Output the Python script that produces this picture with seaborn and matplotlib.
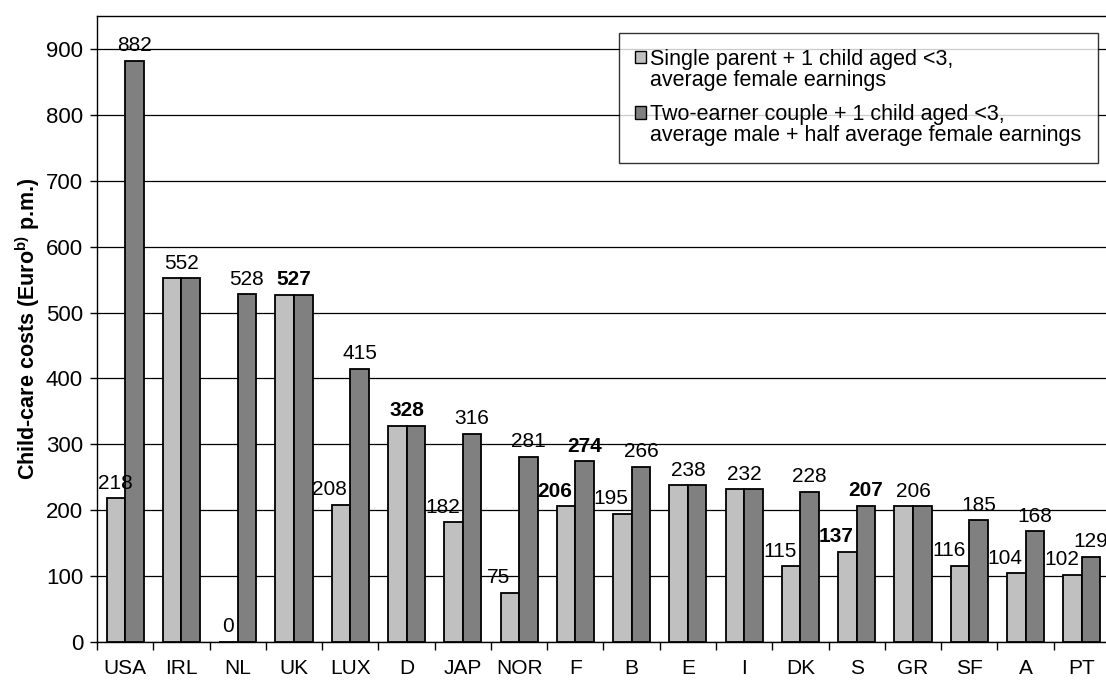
import numpy as np
import pandas as pd
import seaborn as sns
import matplotlib.pyplot as plt
from matplotlib.ticker import FixedLocator
from matplotlib.patches import Patch, Rectangle
from matplotlib.legend_handler import HandlerPatch

sns.set_theme(style="white")
plt.rcParams['font.family'] = ['Liberation Sans', 'DejaVu Sans']
plt.rcParams['mathtext.fontset'] = 'custom'
plt.rcParams['mathtext.rm'] = 'Liberation Sans'
plt.rcParams['mathtext.bf'] = 'Liberation Sans:bold'
plt.rcParams['text.color'] = 'black'
plt.rcParams['xtick.color'] = 'black'
plt.rcParams['ytick.color'] = 'black'

countries = ["USA", "IRL", "NL", "UK", "LUX", "D", "JAP", "NOR", "F", "B",
             "E", "I", "DK", "S", "GR", "SF", "A", "PT"]
single_parent = [218, 552, 0, 527, 208, 328, 182, 75, 206, 195,
                 238, 232, 115, 137, 206, 116, 104, 102]
two_earner = [882, 552, 528, 527, 415, 328, 316, 281, 274, 266,
              238, 232, 228, 207, 206, 185, 168, 129]
bold_single = [False, False, False, True, False, True, False, False, True, False,
               False, False, False, True, False, False, False, False]
bold_couple = [False, False, False, True, False, True, False, False, True, False,
               False, False, False, True, False, False, False, False]
series_names = ["Single parent + 1 child aged <3,\naverage female earnings",
                "Two-earner couple + 1 child aged <3,\naverage male + half average female earnings"]
colors = ["#C0C0C0", "#808080"]

df = pd.DataFrame({
    "country": countries * 2,
    "cost": single_parent + two_earner,
    "series": [series_names[0]] * len(countries) + [series_names[1]] * len(countries),
})

fig = plt.figure(figsize=(11.06, 6.81), dpi=100)
ax = fig.add_axes([97 / 1106, 39 / 681, 1013 / 1106, 626 / 681])

sns.barplot(data=df, x="country", y="cost", hue="series", palette=colors,
            width=0.66, edgecolor="black", linewidth=1.3, saturation=1,
            ax=ax, zorder=3, legend=False)

ax.set_ylim(0, 950)
ax.set_xlim(-0.5, len(countries) - 0.5)
ax.set_yticks(np.arange(0, 901, 100))
ax.yaxis.grid(True, color="black", linewidth=0.9)
ax.set_axisbelow(True)
ax.set_xlabel("")
ax.set_ylabel("")

for s in ["left", "bottom", "top"]:
    ax.spines[s].set_color("black")
    ax.spines[s].set_linewidth(1.0)
ax.spines["right"].set_visible(False)

ax.tick_params(axis="y", which="major", left=True, length=5, width=1, color="black",
               labelsize=16, pad=5, labelcolor="black")
ax.tick_params(axis="x", which="major", bottom=False, length=0, labelsize=15, pad=12.5,
               labelcolor="black")
ax.xaxis.set_minor_locator(FixedLocator(np.arange(-0.5, len(countries), 1.0)))
ax.tick_params(axis="x", which="minor", bottom=True, length=6, width=1, color="black")

hw = 0.165
fs = 15
for i in range(len(countries)):
    s, c = single_parent[i], two_earner[i]
    if s == c:
        ax.annotate(str(s), (i, s), xytext=(0, 4), textcoords="offset points",
                    ha="center", va="bottom", fontsize=fs,
                    fontweight="bold" if bold_single[i] else "normal")
    else:
        off = 0 if (i == 0 or len(str(s)) == 1) else -0.2
        ax.annotate(str(s), (i - hw + off, s), xytext=(0, 4), textcoords="offset points",
                    ha="center", va="bottom", fontsize=fs,
                    fontweight="bold" if bold_single[i] else "normal")
        ax.annotate(str(c), (i + hw, c), xytext=(0, 4), textcoords="offset points",
                    ha="center", va="bottom", fontsize=fs,
                    fontweight="bold" if bold_couple[i] else "normal")


class TopLineHandler(HandlerPatch):
    def create_artists(self, legend, orig_handle, xdescent, ydescent, width, height,
                       fontsize, trans):
        p = Rectangle((-xdescent, -ydescent + fontsize * 0.62), width, height,
                      facecolor=orig_handle.get_facecolor(), edgecolor="black", lw=1.0)
        p.set_transform(trans)
        return [p]


handles = [Patch(facecolor=c, edgecolor="black") for c in colors]
leg = ax.legend(handles, series_names, loc="upper right", bbox_to_anchor=(0.988, 0.973),
                borderaxespad=0, fontsize=15.5, frameon=True, fancybox=False,
                edgecolor="black", handlelength=0.5, handleheight=0.5,
                handletextpad=0.2, labelspacing=0.62, borderpad=0.75,
                handler_map={h: TopLineHandler() for h in handles})
leg.get_frame().set_linewidth(1.0)
for t in leg.get_texts():
    t.set_linespacing(1.0)

fig.text(28 / 1106, 1 - 329 / 681, r"Child-care costs (Euro$^{\mathbf{b)}}$ p.m.)",
         rotation=90, ha="center", va="center", fontsize=15.5, fontweight="bold")

fig.savefig("out.png", dpi=100)
